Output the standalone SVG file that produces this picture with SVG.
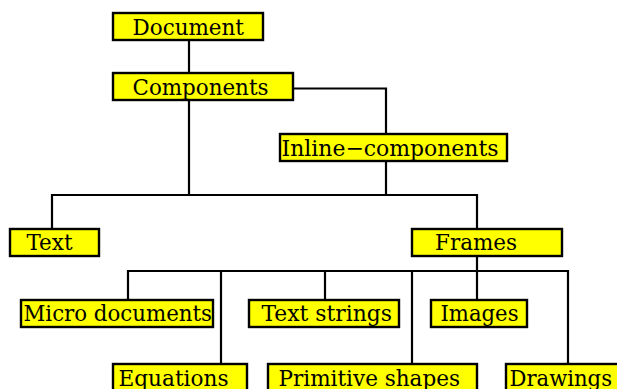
<svg xmlns="http://www.w3.org/2000/svg" width="617" height="389" viewBox="0 0 617 389">
<style>
.box{fill:#ffff00;stroke:#000;stroke-width:2.4}
.lbl{font-family:"DejaVu Serif","Liberation Serif",serif;font-size:23px;fill:#000}
.con{fill:none;stroke:#000;stroke-width:2.2}
</style>
<rect width="617" height="389" fill="#fff"/>
<g id="connectors" class="con">
<path d="M189 40V73"/>
<path d="M293 88.5H386V134"/>
<path d="M189 100V195"/>
<path d="M386 161V195"/>
<path d="M52 229V195H477V229"/>
<path d="M477 256V271"/>
<path d="M128 300V271H568V364"/>
<path d="M221 271V364"/>
<path d="M325 271V300"/>
<path d="M412 271V364"/>
<path d="M477 271V300"/>
</g>
<g id="document"><rect class="box" x="113" y="13" width="150" height="27"/><text class="lbl" x="132.5" y="34.5" textLength="111.5" lengthAdjust="spacingAndGlyphs">Document</text></g>
<g id="components"><rect class="box" x="113" y="73" width="180" height="27"/><text class="lbl" x="132.5" y="94.5" textLength="136" lengthAdjust="spacingAndGlyphs">Components</text></g>
<g id="inline-components"><rect class="box" x="280" y="134" width="227" height="27"/><text class="lbl" x="281.5" y="155.5" textLength="217" lengthAdjust="spacingAndGlyphs">Inline−components</text></g>
<g id="text"><rect class="box" x="10" y="229" width="89" height="27"/><text class="lbl" x="26.5" y="249.5" textLength="46" lengthAdjust="spacingAndGlyphs">Text</text></g>
<g id="frames"><rect class="box" x="412" y="229" width="150" height="27"/><text class="lbl" x="435" y="249.5" textLength="82" lengthAdjust="spacingAndGlyphs">Frames</text></g>
<g id="micro-documents"><rect class="box" x="21" y="300" width="192" height="27"/><text class="lbl" x="23.5" y="320.5" textLength="188.5" lengthAdjust="spacingAndGlyphs">Micro documents</text></g>
<g id="text-strings"><rect class="box" x="249" y="300" width="150" height="27"/><text class="lbl" x="261.5" y="320.5" textLength="130.5" lengthAdjust="spacingAndGlyphs">Text strings</text></g>
<g id="images"><rect class="box" x="431" y="300" width="96" height="27"/><text class="lbl" x="440.5" y="320.5" textLength="78" lengthAdjust="spacingAndGlyphs">Images</text></g>
<g id="equations"><rect class="box" x="113" y="364" width="134" height="27"/><text class="lbl" x="118.5" y="385.5" textLength="110" lengthAdjust="spacingAndGlyphs">Equations</text></g>
<g id="primitive-shapes"><rect class="box" x="268" y="364" width="209" height="27"/><text class="lbl" x="278.5" y="385.5" textLength="181.5" lengthAdjust="spacingAndGlyphs">Primitive shapes</text></g>
<g id="drawings"><rect class="box" x="506" y="364" width="115" height="27"/><text class="lbl" x="509.5" y="385.5" textLength="102.5" lengthAdjust="spacingAndGlyphs">Drawings</text></g>
</svg>
